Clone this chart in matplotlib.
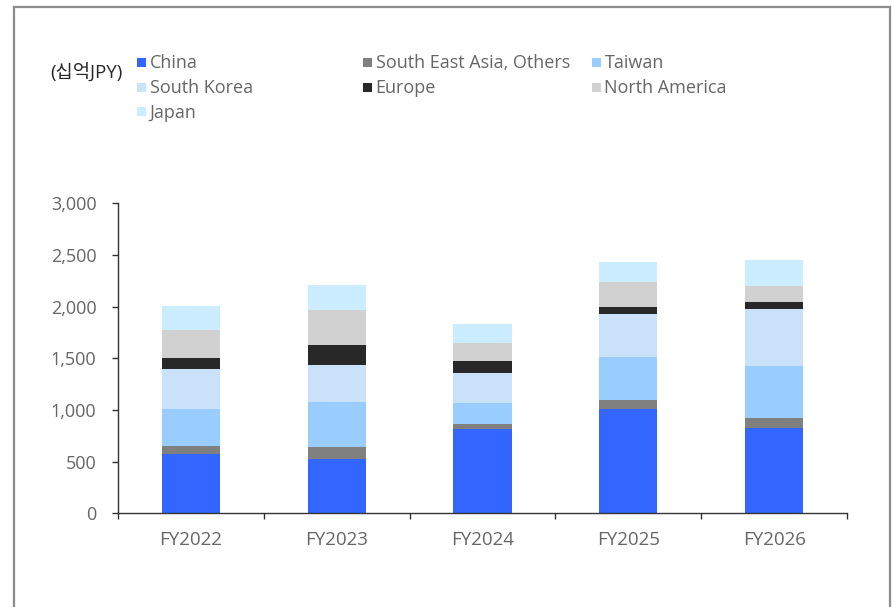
import matplotlib
matplotlib.use("Agg")
import matplotlib.pyplot as plt
from matplotlib.patches import Rectangle
from matplotlib.lines import Line2D
import numpy as np

plt.rcParams['font.family'] = ['Open Sans', 'Noto Sans CJK KR', 'DejaVu Sans']

# 연도별 지역 매출 (십억 JPY)
years = ["FY2022", "FY2023", "FY2024", "FY2025", "FY2026"]
china = [571, 528, 813, 1012, 828]
sea_others = [83, 117, 54, 87, 97]
taiwan = [358, 435, 203, 416, 498]
south_korea = [384, 358, 291, 411, 551]
europe = [107, 188, 113, 73, 68]
north_america = [271, 344, 171, 242, 161]
japan = [235, 242, 190, 194, 245]

series = [
    ("China", china, "#3366FF"),
    ("South East Asia, Others", sea_others, "#808080"),
    ("Taiwan", taiwan, "#99CCFF"),
    ("South Korea", south_korea, "#C9E1F9"),
    ("Europe", europe, "#282828"),
    ("North America", north_america, "#D1D1D1"),
    ("Japan", japan, "#CCEDFF"),
]

W, H = 892, 607
fig = plt.figure(figsize=(W / 100, H / 100), dpi=100)
ax = fig.add_axes([118 / W, 1 - 513.3 / H, (847 - 118) / W, (513.3 - 203.3) / H])

x = np.arange(len(years))
bottom = np.zeros(len(years))
for name, vals, col in series:
    ax.bar(x, vals, 0.4, bottom=bottom, color=col, linewidth=0)
    bottom += np.array(vals)

ax.set_xlim(-0.5, len(years) - 0.5)
ax.set_ylim(0, 3000)
ax.set_yticks(range(0, 3001, 500))
ax.set_yticklabels([f"{v:,}" for v in range(0, 3001, 500)])
ax.set_xticks(x)
ax.set_xticklabels(years)
ax.set_xticks(np.arange(-0.5, len(years)), minor=True)
ax.tick_params(axis='x', which='major', length=0, pad=13, labelsize=13.5, labelcolor="#666666")
ax.tick_params(axis='x', which='minor', length=4.5, width=1, color="#333333")
ax.tick_params(axis='y', length=4.5, width=1, color="#333333", pad=11, labelsize=13,
               labelcolor="#666666")
for s in ["top", "right"]:
    ax.spines[s].set_visible(False)
for s in ["left", "bottom"]:
    ax.spines[s].set_color("#333333")
    ax.spines[s].set_linewidth(1)

# 단위
fig.text(50 / W, 1 - 73 / H, "(십억JPY)", fontsize=13.5, color="#262626", va="center", ha="left")

# 범례 (행 우선 배치)
col_x = [137, 363, 592]
row_y = [62, 87, 112]
for i, (name, vals, col) in enumerate(series):
    cx = col_x[i % 3]
    cy = row_y[i // 3]
    fig.patches.append(Rectangle((cx / W, 1 - (cy + 4.5) / H), 9 / W, 9 / H,
                                 transform=fig.transFigure, color=col, linewidth=0))
    fig.text((cx + 12.5) / W, 1 - (cy + 1) / H, name, fontsize=13, color="#666666",
             va="center", ha="left")

# 테두리
bc = "#8C8C8C"
fig.add_artist(Line2D([14.5 / W, 890 / W], [1 - 6.5 / H, 1 - 6.5 / H], color=bc, lw=1.6,
                      transform=fig.transFigure))
fig.add_artist(Line2D([14.5 / W, 14.5 / W], [0, 1 - 6.5 / H], color=bc, lw=1.6,
                      transform=fig.transFigure))
fig.add_artist(Line2D([890 / W, 890 / W], [0, 1 - 6.5 / H], color=bc, lw=1.6,
                      transform=fig.transFigure))

fig.savefig("out.png", dpi=100)
